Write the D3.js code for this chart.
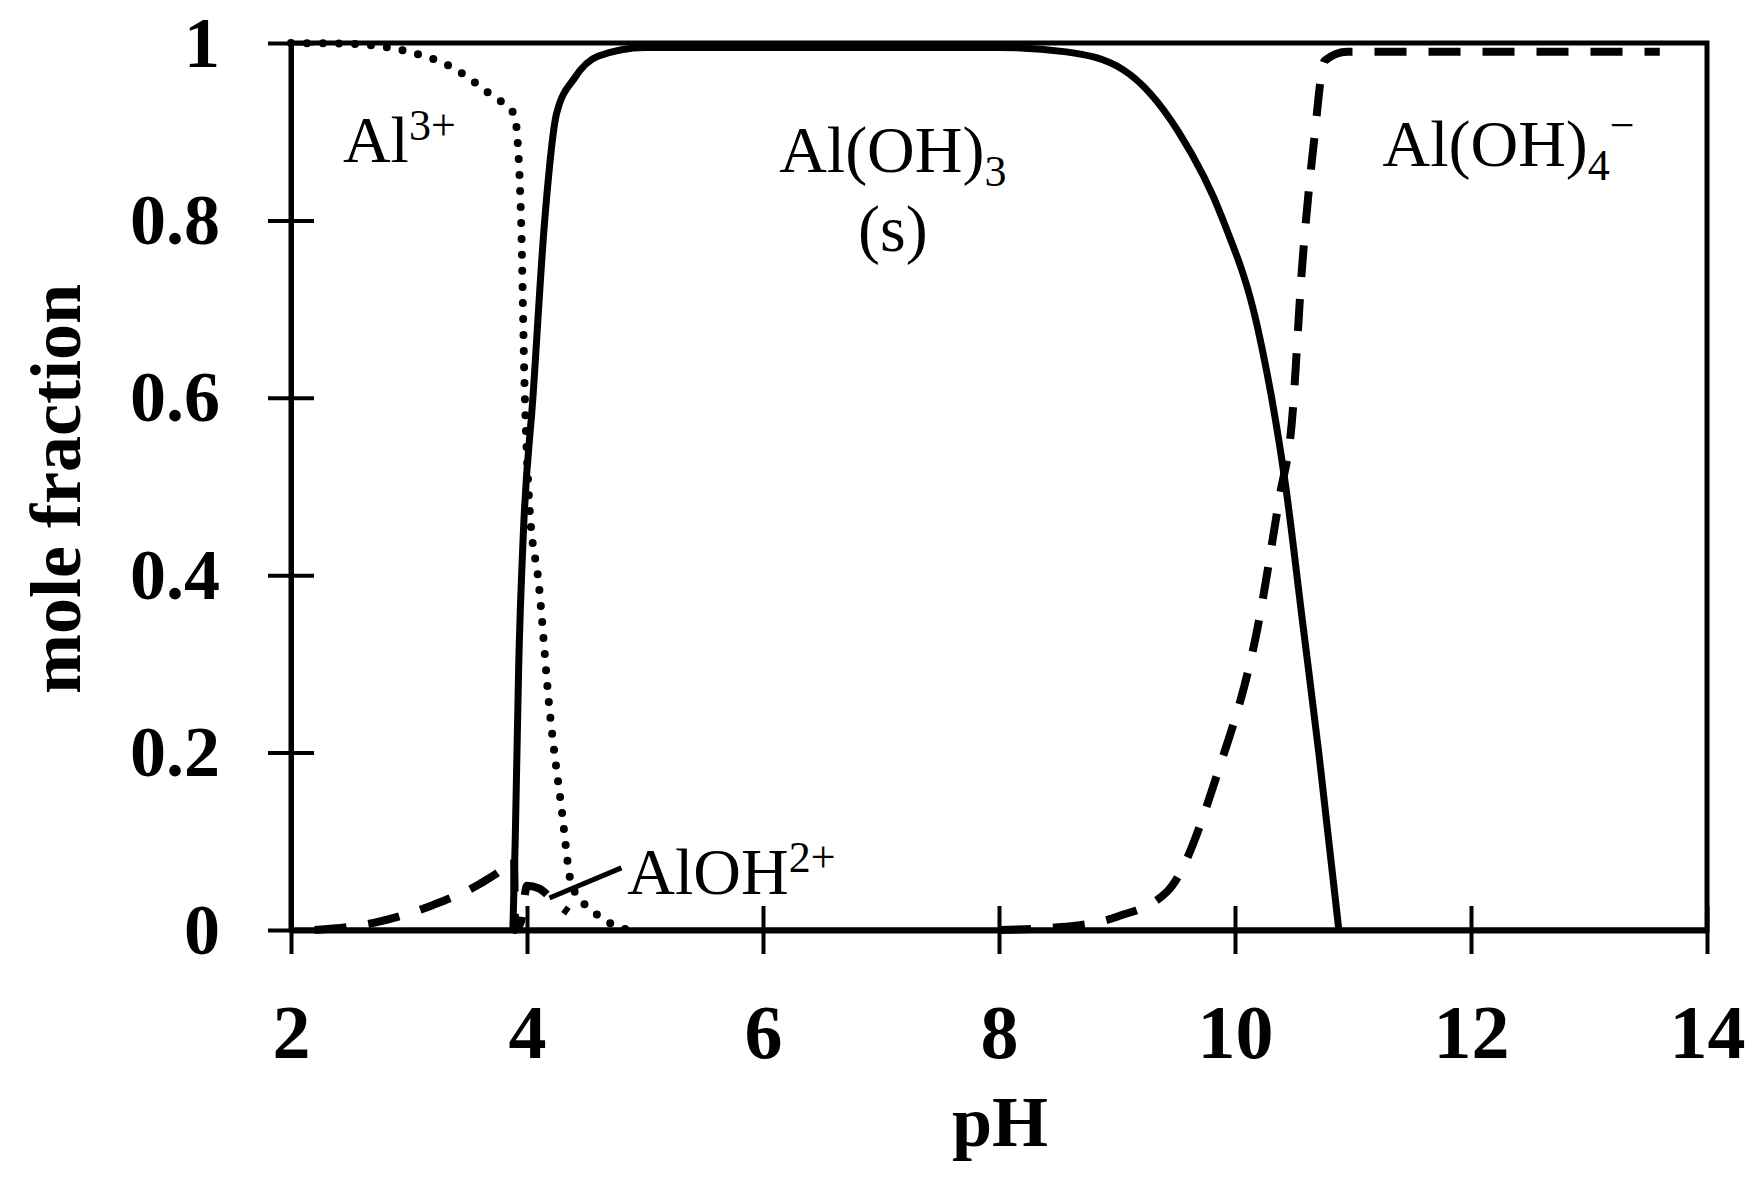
<!DOCTYPE html>
<html>
<head>
<meta charset="utf-8">
<script src="https://cdn.jsdelivr.net/npm/d3@7"></script>
<style>
  body { margin: 0; background: #fff; }
  text { font-family: "Liberation Serif", "Times New Roman", serif; fill: #000; }
</style>
</head>
<body>
<div class="chart"></div>
<script>
// data: [pH, mole fraction]
const al3 = [[2,1],[2.5,0.999],[3,0.99],[3.33,0.975],[3.71,0.94],[3.89,0.92],[3.92,0.89],[3.95,0.8],[3.98,0.61],
  [4.02,0.48],[4.1,0.39],[4.19,0.25],[4.29,0.14],[4.38,0.05],[4.57,0.02],[4.86,0]];
const aloh3 = [[3.88,0],[3.9,0.1],[3.93,0.3],[3.97,0.45],[4.05,0.6],[4.15,0.8],[4.25,0.92],[4.4,0.96],[4.6,0.985],
  [5,0.995],[6,0.995],[7,0.995],[8,0.995],[8.57,0.99],[9.05,0.97],[9.52,0.9],[9.9,0.8],[10.19,0.68],[10.43,0.5],
  [10.57,0.35],[10.71,0.2],[10.88,0]];
const aloh2 = [[2.2,0],[2.7,0.008],[3.2,0.028],[3.6,0.052],[3.85,0.075],[3.89,0.08],[3.9,0],[3.95,0.01],[4.0,0.05],
  [4.1,0.047],[4.25,0.03],[4.35,0.02]];
const aloh4 = [[8.0,0],[8.5,0.003],[9.0,0.015],[9.43,0.044],[9.86,0.18],[10.19,0.34],[10.38,0.49],[10.48,0.57],
  [10.57,0.75],[10.67,0.89],[10.76,0.98],[10.95,0.99],[12,0.99],[13.6,0.99]];
const xTicks = [2,4,6,8,10,12,14];
const yTicks = [0,0.2,0.4,0.6,0.8,1];

const svg_width = 1759, svg_height = 1192;
const margin = {top:43, right:52, bottom:262, left:291};
const w = svg_width - margin.left - margin.right;
const h = svg_height - margin.top - margin.bottom;

const svg = d3.select('.chart').append('svg')
  .attr('width', svg_width).attr('height', svg_height);
const g = svg.append('g').attr('transform', `translate(${margin.left},${margin.top})`);

const x = d3.scaleLinear().domain([2,14]).range([0,w]);
const y = d3.scaleLinear().domain([0,1]).range([h,0]);

// frame
g.append('rect').attr('width', w).attr('height', h)
  .attr('fill','none').attr('stroke','#000').attr('stroke-width',5);

// axes
const xAxis = g.append('g').attr('transform',`translate(0,${h})`)
  .call(d3.axisBottom(x).tickValues(xTicks).tickSizeInner(24).tickSizeOuter(0).tickPadding(50));
xAxis.selectAll('line').attr('y1',-24).attr('stroke-width',4);
xAxis.select('.domain').attr('stroke-width',6);
xAxis.selectAll('text').attr('font-size',76).attr('font-weight','bold')
  .style('font-family','"Liberation Serif", serif');

const yAxis = g.append('g')
  .call(d3.axisLeft(y).tickValues(yTicks).tickFormat(d3.format('')).tickSizeInner(23).tickSizeOuter(0).tickPadding(48));
yAxis.selectAll('line').attr('x1',23).attr('stroke-width',4);
yAxis.select('.domain').attr('stroke-width',5);
yAxis.selectAll('text').attr('font-size',72).attr('font-weight','bold')
  .style('font-family','"Liberation Serif", serif');

// curves
const line = d3.line().x(d=>x(d[0])).y(d=>y(d[1])).curve(d3.curveMonotoneX);
g.append('path').datum(aloh3).attr('d',line).attr('fill','none').attr('stroke','#000').attr('stroke-width',7);
g.append('path').datum(al3).attr('d',line).attr('fill','none').attr('stroke','#000')
  .attr('stroke-width',8).attr('stroke-linecap','round').attr('stroke-dasharray','0 16');
[aloh2, aloh4].forEach(s => g.append('path').datum(s).attr('d',line).attr('fill','none').attr('stroke','#000')
  .attr('stroke-width',8).attr('stroke-dasharray','32 22'));

// labels
const lab = (px, py, parts, anchor) => {
  const t = g.append('text').attr('x', x(px)).attr('y', y(py)).attr('font-size',66)
    .attr('text-anchor', anchor || 'start');
  parts.forEach(p => t.append('tspan').text(p[0]).attr('dy', p[1] || 0)
    .attr('font-size', p[2] || 66));
};
lab(2.44, 0.866, [['Al'],['3+',-22,44]]);
lab(7.1, 0.855, [['Al(OH)'],['3',14,44]], 'middle');
lab(7.1, 0.766, [['(s)']], 'middle');
lab(11.25, 0.861, [['Al(OH)'],['4',14,44],['\u2212',-40,44]]);
lab(4.85, 0.041, [['AlOH'],['2+',-22,44]]);
g.append('line').attr('x1',x(4.19)).attr('y1',y(0.036)).attr('x2',x(4.8)).attr('y2',y(0.07))
  .attr('stroke','#000').attr('stroke-width',5);

// axis titles
svg.append('text').attr('x', 1000).attr('y', 1146).attr('text-anchor','middle')
  .attr('font-size',72).attr('font-weight','bold').text('pH');
svg.append('text').attr('transform','translate(80,489) rotate(-90)').attr('text-anchor','middle')
  .attr('font-size',72).attr('font-weight','bold').text('mole fraction');
</script>
</body>
</html>
